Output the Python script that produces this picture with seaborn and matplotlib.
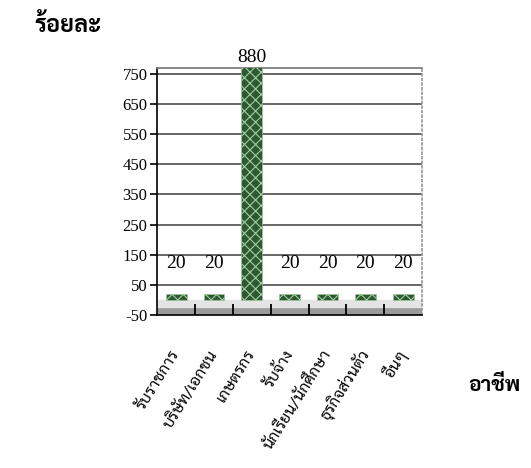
import matplotlib
matplotlib.use('Agg')
import matplotlib.pyplot as plt
import seaborn as sns
import pandas as pd

# data
jobs = ['รับราชการ', 'บริษัท/เอกชน', 'เกษตรกร', 'รับจ้าง',
        'นักเรียน/นักศึกษา', 'ธุรกิจส่วนตัว', 'อื่นๆ']
counts = [20, 20, 880, 20, 20, 20, 20]
y_ticks = [-50, 50, 150, 250, 350, 450, 550, 650, 750]

sns.set_theme(style='white')
plt.rcParams['font.family'] = ['Liberation Serif', 'Sarabun', 'DejaVu Sans']
plt.rcParams['axes.unicode_minus'] = False
plt.rcParams['hatch.linewidth'] = 0.8
plt.rcParams['text.color'] = 'black'

df = pd.DataFrame({'job': jobs, 'count': counts})

fig = plt.figure(figsize=(5.31, 4.68), dpi=100)
ax = fig.add_axes([0.296, 0.327, 0.499, 0.528])

# floor of the pseudo 3D chart
ax.axhspan(-50, -25, color='#9a9a9a', zorder=0)
ax.axhspan(-25, 0, color='#e4e4e4', zorder=0)

sns.barplot(data=df, x='job', y='count', color='#285f2c', width=0.55,
            edgecolor='#9fcf9f', linewidth=0.4, hatch='xxx', ax=ax, zorder=3)

ymax = 770
ax.set_ylim(-50, ymax)
ax.set_xlim(-0.5, len(jobs) - 0.5)
ax.set_yticks(y_ticks)
for t in y_ticks[1:]:
    ax.axhline(t, color='#5a5a5a', lw=1.3, zorder=1)

for i, v in enumerate(counts):
    top = min(v, ymax)
    off = 1 if v > ymax else 16
    ax.annotate(str(v), (i, top), xytext=(0, off), textcoords='offset points',
                ha='center', va='bottom', fontsize=14, color='black',
                annotation_clip=False)

ax.set_xlabel('')
ax.set_ylabel('')
ax.set_xticks(range(len(jobs)))
ax.set_xticklabels(jobs, rotation=58, ha='right', va='center',
                   rotation_mode='anchor', fontsize=11.5, color='black',
                   family=['Sarabun'])
ax.set_xticks([i + 0.5 for i in range(len(jobs) - 1)], minor=True)
ax.tick_params(axis='x', which='major', length=0, pad=26)
ax.tick_params(axis='x', which='minor', direction='in', length=8, width=1.3, color='black', bottom=True)
ax.tick_params(axis='y', direction='out', length=5, width=1.2, color='black', left=True,
               labelsize=12, labelcolor='black', pad=2)

for side in ['left', 'bottom']:
    ax.spines[side].set_color('black')
    ax.spines[side].set_linewidth(1.2)
ax.spines['top'].set_color('#7a7a7a')
ax.spines['right'].set_color('#9a9a9a')
ax.spines['right'].set_linestyle(':')

fig.text(0.064, 0.945, 'ร้อยละ', fontsize=17, fontweight='bold', ha='left', va='center',
         color='black', family=['Sarabun'])
fig.text(0.882, 0.177, 'อาชีพ', fontsize=15, fontweight='bold', ha='left', va='center',
         color='black', family=['Sarabun'])

fig.savefig('out.png', dpi=100)
